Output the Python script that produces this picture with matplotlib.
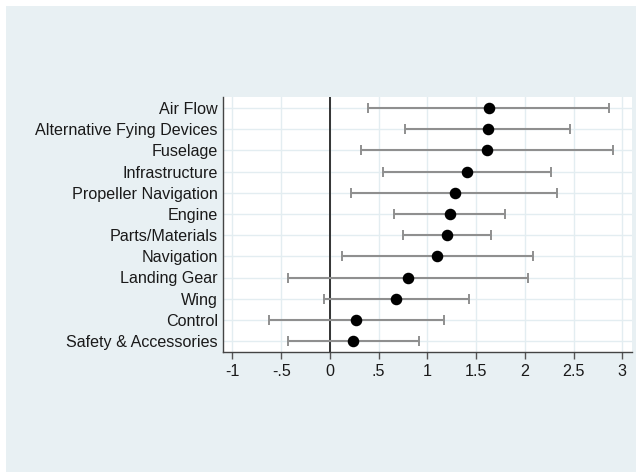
import matplotlib
matplotlib.use("Agg")
import matplotlib.pyplot as plt
from matplotlib.patches import Rectangle

plt.rcParams['font.family'] = ['Liberation Sans', 'DejaVu Sans']

categories = ["Air Flow", "Alternative Fying Devices", "Fuselage", "Infrastructure",
              "Propeller Navigation", "Engine", "Parts/Materials", "Navigation",
              "Landing Gear", "Wing", "Control", "Safety & Accessories"]
estimates = [1.63, 1.62, 1.61, 1.41, 1.28, 1.23, 1.20, 1.10, 0.80, 0.68, 0.27, 0.24]
ci_low = [0.39, 0.77, 0.32, 0.55, 0.22, 0.66, 0.75, 0.12, -0.43, -0.06, -0.63, -0.43]
ci_high = [2.86, 2.46, 2.90, 2.27, 2.33, 1.80, 1.65, 2.08, 2.03, 1.43, 1.17, 0.91]
xticks = [-1, -0.5, 0, 0.5, 1, 1.5, 2, 2.5, 3]
xticklabels = ["-1", "-.5", "0", ".5", "1", "1.5", "2", "2.5", "3"]

W, H = 636, 472
fig = plt.figure(figsize=(W / 100, H / 100), dpi=100)
fig.patch.set_facecolor("white")
bgc = "#e8f0f3"
fig.patches.append(Rectangle((6 / W, 0), 1, 1 - 6 / H, transform=fig.transFigure,
                             facecolor=bgc, edgecolor="none", zorder=-10))

ax = fig.add_axes([222.7 / W, 1 - 351.7 / H, (632 - 222.7) / W, (351.7 - 97.3) / H])
ax.set_facecolor("white")

n = len(categories)
ypos = list(range(n, 0, -1))
xerr = [[e - l for e, l in zip(estimates, ci_low)], [h - e for e, h in zip(estimates, ci_high)]]
ax.errorbar(estimates, ypos, xerr=xerr, fmt="none", ecolor="#8f8f8f", elinewidth=1.5,
            capsize=3.3, capthick=1.4, zorder=3)
ax.plot(estimates, ypos, "o", color="black", markersize=7.3, zorder=4)
ax.axvline(0, color="#333333", linewidth=1.4, zorder=2)

ax.set_xlim(-1.1, 3.1)
ax.set_ylim(0.5, n + 0.5)
ax.set_yticks(ypos)
ax.set_yticklabels(categories, fontsize=11.6, color="#1a1a1a")
ax.tick_params(axis="y", length=0, pad=3.5)
ax.set_xticks(xticks)
ax.set_xticklabels(xticklabels, fontsize=11.6, color="#1a1a1a")
ax.tick_params(axis="x", length=5, width=1.0, color="#555555", pad=4)

ax.grid(True, color="#e3edf1", linewidth=1.0, zorder=0)
ax.set_axisbelow(True)
for s in ["top", "right"]:
    ax.spines[s].set_visible(False)
for s in ["left", "bottom"]:
    ax.spines[s].set_color("#444444")
    ax.spines[s].set_linewidth(1.0)

fig.savefig("out.png", dpi=100)
